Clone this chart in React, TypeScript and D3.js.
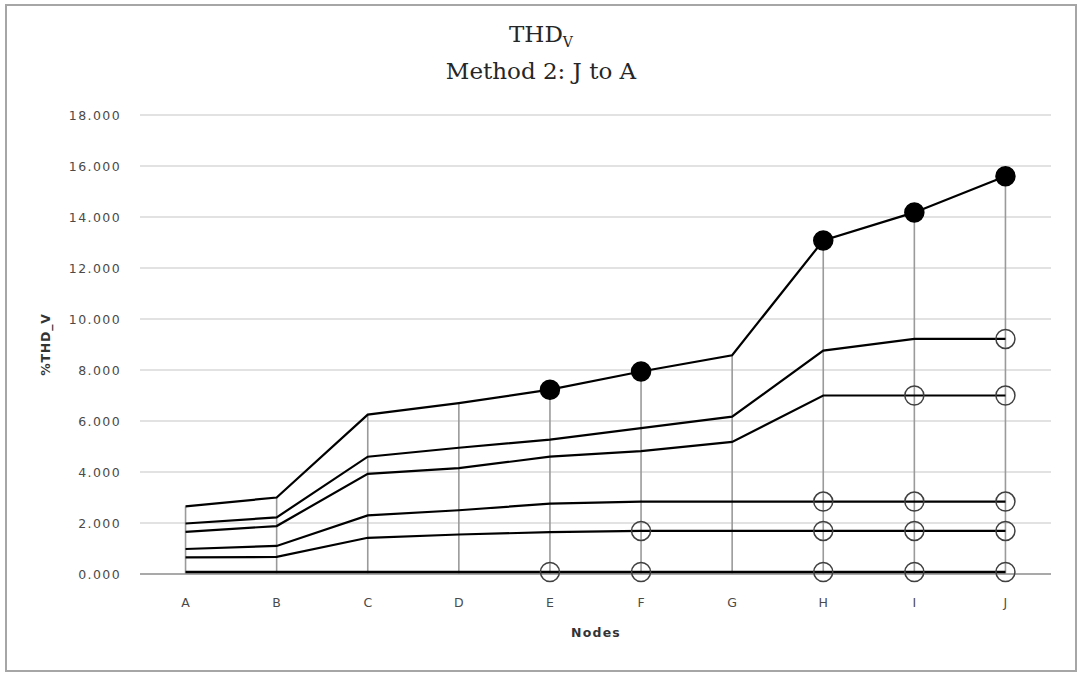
import React from 'react';
import * as d3 from 'd3';

const categories = ['A', 'B', 'C', 'D', 'E', 'F', 'G', 'H', 'I', 'J'];
const series1 = [2.65, 3.0, 6.25, 6.7, 7.23, 7.94, 8.58, 13.08, 14.18, 15.6];
const series2 = [1.98, 2.22, 4.6, 4.95, 5.27, 5.72, 6.17, 8.76, 9.22, 9.22];
const series3 = [1.65, 1.88, 3.93, 4.15, 4.6, 4.82, 5.18, 7.0, 7.0, 7.0];
const series4 = [0.98, 1.1, 2.3, 2.5, 2.76, 2.84, 2.84, 2.84, 2.84, 2.84];
const series5 = [0.65, 0.67, 1.42, 1.55, 1.64, 1.69, 1.69, 1.69, 1.69, 1.69];
const series6 = [0.08, 0.08, 0.08, 0.08, 0.08, 0.08, 0.08, 0.08, 0.08, 0.08];

// marker kind per point: 'f' filled, 'o' open, '' none
const markers1 = ['', '', '', '', 'f', 'f', '', 'f', 'f', 'f'];
const markers2 = ['', '', '', '', '', '', '', '', '', 'o'];
const markers3 = ['', '', '', '', '', '', '', '', 'o', 'o'];
const markers4 = ['', '', '', '', '', '', '', 'o', 'o', 'o'];
const markers5 = ['', '', '', '', '', 'o', '', 'o', 'o', 'o'];
const markers6 = ['', '', '', '', 'o', 'o', '', 'o', 'o', 'o'];

const yTicks = [0, 2, 4, 6, 8, 10, 12, 14, 16, 18];

const allSeries = [series1, series2, series3, series4, series5, series6];
const allMarkers = [markers1, markers2, markers3, markers4, markers5, markers6];

export default function App() {
  const W = 1086, H = 677;
  const left = 140, right = 1051, top = 115, bottom = 574;
  const x = d3.scaleBand<string>().domain(categories).range([left, right]);
  const y = d3.scaleLinear().domain([0, 18]).range([bottom, top]);
  const cx = (c: string) => (x(c) as number) + x.bandwidth() / 2;
  const line = d3.line<number>().x((_, i) => cx(categories[i])).y((d) => y(d));
  const tickFmt = d3.format('.3f');

  return (
    <svg width={W} height={H} style={{ position: 'absolute', left: 0, top: 0 }}>
      <rect x={0} y={0} width={W} height={H} fill="#fff" />
      <rect x={6} y={5} width={1070} height={666} fill="none" stroke="#a6a6a6" strokeWidth={2} />
      <text x={541} y={42} textAnchor="middle" fontFamily="DejaVu Serif" fontSize={23} fill="#262626">
        THD<tspan fontSize={14} dy={5}>V</tspan>
      </text>
      <text x={541} y={79} textAnchor="middle" fontFamily="DejaVu Serif" fontSize={23} fill="#262626">
        Method 2: J to A
      </text>
      {yTicks.map((t) => (
        <g key={t}>
          <line x1={left} x2={right} y1={y(t)} y2={y(t)} stroke={t === 0 ? '#8c8c8c' : '#d9d9d9'} strokeWidth={1.5} />
          <text x={121} y={y(t) + 4.5} textAnchor="end" fontFamily="DejaVu Sans" fontSize={12.5} letterSpacing={1.4} fill="#4a4a4a">
            {tickFmt(t)}
          </text>
        </g>
      ))}
      {categories.map((c, i) => {
        const mx = d3.max(allSeries, (s) => s[i]) as number;
        return (
          <line key={'d' + c} x1={cx(c)} x2={cx(c)} y1={y(mx)} y2={y(0)} stroke="#9a9a9a" strokeWidth={1.6} />
        );
      })}
      {allSeries.map((s, k) => (
        <path key={'s' + k} d={line(s) as string} fill="none" stroke="#000" strokeWidth={k === 5 ? 2.6 : 2.2} />
      ))}
      {allSeries.map((s, k) =>
        s.map((v, i) => {
          const m = allMarkers[k][i];
          if (!m) return null;
          return (
            <circle
              key={'m' + k + '-' + i}
              cx={cx(categories[i])}
              cy={y(v)}
              r={9.5}
              fill={m === 'f' ? '#000' : 'none'}
              stroke={m === 'f' ? '#000' : '#404040'}
              strokeWidth={1.5}
            />
          );
        })
      )}
      {categories.map((c) => (
        <text key={'x' + c} x={cx(c)} y={607} textAnchor="middle" fontFamily="DejaVu Sans" fontSize={12.5} fill="#4a4a4a">
          {c}
        </text>
      ))}
      <text x={596} y={637} textAnchor="middle" fontFamily="DejaVu Sans" fontSize={12.5} fontWeight="bold" letterSpacing={1.2} fill="#333">
        Nodes
      </text>
      <text
        transform={`translate(50, ${(top + bottom) / 2}) rotate(-90)`}
        textAnchor="middle"
        fontFamily="DejaVu Sans"
        fontSize={12.5}
        fontWeight="bold"
        letterSpacing={0.8}
        fill="#333"
      >
        %THD_V
      </text>
    </svg>
  );
}
